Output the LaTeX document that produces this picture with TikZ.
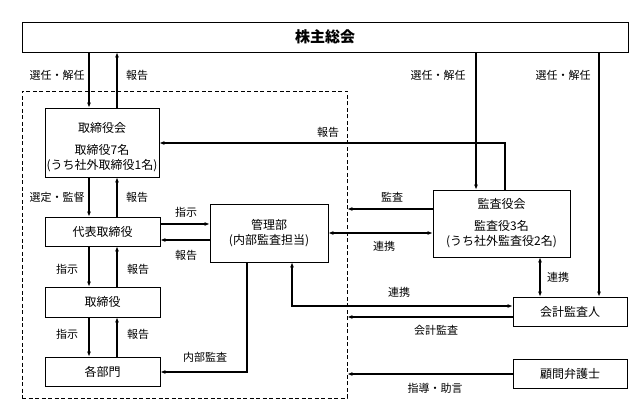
\documentclass[tikz,border=0pt]{standalone}
\usepackage{fontspec}
\setmainfont{Noto Sans CJK JP}
\usetikzlibrary{arrows.meta,shadows}
\begin{document}
\begin{tikzpicture}[x=1pt,y=-1pt,
  box/.style={draw,line width=0.7pt,fill=white,rectangle,inner sep=0pt,align=center,
    font=\fontsize{12}{15}\selectfont,
    drop shadow={shadow xshift=0.8pt,shadow yshift=-0.9pt,fill=black!40,opacity=1}},
  btxt/.style={inner sep=0pt,align=center,font=\fontsize{12}{15}\selectfont},
  lbl/.style={inner sep=0pt,font=\fontsize{11}{13}\selectfont},
  grpbox/.style={draw,line width=0.7pt,dash pattern=on 4pt off 2.5pt,rectangle,inner sep=0pt},
  arr/.style={line width=1.2pt,-{Latex[length=5pt,width=4pt]}},
  darr/.style={line width=1.2pt,{Latex[length=5pt,width=4pt]}-{Latex[length=5pt,width=4pt]}}]
\useasboundingbox (0,0) rectangle (644,419);

% group
\node[grpbox,minimum width=325pt,minimum height=307pt] (grp) at (184.5,244.5) {};

% boxes
\node[box,minimum width=606pt,minimum height=30pt,font=\fontsize{15}{18}\selectfont\bfseries] (sh) at (325,37) {株主総会};
\node[box,minimum width=114pt,minimum height=69pt] (tb) at (102,142.5) {};
\node[btxt] (tbt) at (102,147) {取締役会\\[7pt]取締役7名\\(うち社外取締役1名)};
\node[box,minimum width=115pt,minimum height=29pt] (dh) at (102.5,231.5) {代表取締役};
\node[box,minimum width=118pt,minimum height=58pt] (kanri) at (269,233) {管理部\\(内部監査担当)};
\node[box,minimum width=115pt,minimum height=30pt] (tr) at (102.5,302) {取締役};
\node[box,minimum width=115pt,minimum height=29pt] (kb) at (102.5,371.5) {各部門};
\node[box,minimum width=137pt,minimum height=67pt] (ka) at (501.5,223.5) {監査役会\\[7pt]監査役3名\\(うち社外監査役2名)};
\node[box,minimum width=114pt,minimum height=29pt] (kk) at (570,311.5) {会計監査人};
\node[box,minimum width=114pt,minimum height=29pt] (kg) at (570,373.5) {顧問弁護士};

% helper coordinates
\coordinate (xa) at (89,0);
\coordinate (xb) at (117,0);
\coordinate (yr1) at (0,224);
\coordinate (yr2) at (0,240);
\coordinate (xh) at (505,143);
\coordinate (nb) at (247,372);
\coordinate (rk) at (292,306);
\coordinate (y3) at (0,209);
\coordinate (y4) at (0,233);
\coordinate (y5) at (0,317);
\coordinate (y6) at (0,374);
\coordinate (x5) at (476,0);
\coordinate (x6) at (599,0);
\coordinate (x7) at (540,0);

% arrows left column
\draw[arr] (sh.south -| xa) -- (tb.north -| xa);
\draw[arr] (tb.north -| xb) -- (sh.south -| xb);
\draw[arr] (tb.south -| xa) -- (dh.north -| xa);
\draw[arr] (dh.north -| xb) -- (tb.south -| xb);
\draw[arr] (dh.south -| xa) -- (tr.north -| xa);
\draw[arr] (tr.north -| xb) -- (dh.south -| xb);
\draw[arr] (tr.south -| xa) -- (kb.north -| xa);
\draw[arr] (kb.north -| xb) -- (tr.south -| xb);

\draw[arr] (dh.east |- yr1) -- (kanri.west |- yr1);
\draw[arr] (kanri.west |- yr2) -- (dh.east |- yr2);
\draw[arr] (kanri.south -| nb) -- (nb) -- (kb.east |- nb);

\draw[arr] (ka.north -| xh) -- (xh) -- (tb.east |- xh);
\draw[darr] (kanri.south -| rk) -- (rk) -- (kk.west |- rk);
\draw[arr] (ka.west |- y3) -- (grp.east |- y3);
\draw[darr] (ka.west |- y4) -- (kanri.east |- y4);
\draw[arr] (kk.west |- y5) -- (grp.east |- y5);
\draw[arr] (kg.west |- y6) -- (grp.east |- y6);

\draw[arr] (sh.south -| x5) -- (ka.north -| x5);
\draw[arr] (sh.south -| x6) -- (kk.north -| x6);
\draw[darr] (ka.south -| x7) -- (kk.north -| x7);

% labels
\node[lbl] (l1) at (57,75) {選任・解任};
\node[lbl] (l2) at (137,75) {報告};
\node[lbl] (l3) at (328,132) {報告};
\node[lbl] (l4) at (57,197) {選定・監督};
\node[lbl] (l5) at (137,197) {報告};
\node[lbl] (l6) at (186,212) {指示};
\node[lbl] (l7) at (186,255) {報告};
\node[lbl] (l8) at (67,269) {指示};
\node[lbl] (l9) at (138,269) {報告};
\node[lbl] (l10) at (67,334) {指示};
\node[lbl] (l11) at (138,334) {報告};
\node[lbl] (l12) at (205,357) {内部監査};
\node[lbl] (l13) at (392,197) {監査};
\node[lbl] (l14) at (384,246) {連携};
\node[lbl] (l15) at (399,292) {連携};
\node[lbl] (l16) at (436,330) {会計監査};
\node[lbl] (l17) at (435,388) {指導・助言};
\node[lbl] (l18) at (558,277) {連携};
\node[lbl] (l19) at (438,75) {選任・解任};
\node[lbl] (l20) at (563,75) {選任・解任};
\end{tikzpicture}
\end{document}
